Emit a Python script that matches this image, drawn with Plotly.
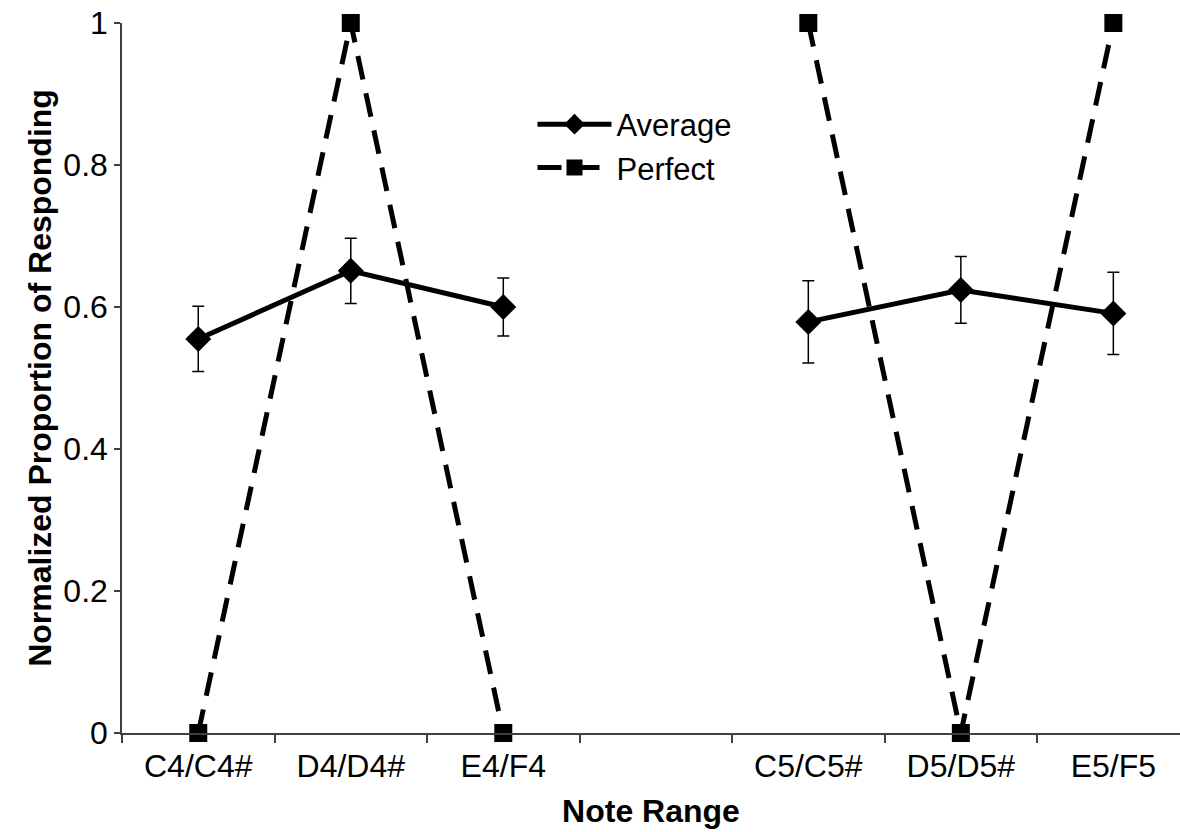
import plotly.graph_objects as go

# Note ranges (the blank slot separates the two octaves)
categories = ["C4/C4#", "D4/D4#", "E4/F4", " ", "C5/C5#", "D5/D5#", "E5/F5"]

# Mean normalized proportion of responding, with standard-error bars
average = [0.555, 0.651, 0.600, None, 0.579, 0.624, 0.591]
average_err = [0.046, 0.046, 0.041, None, 0.058, 0.047, 0.058]

# Ideal (perfect) discrimination profile
perfect = [0, 1, 0, None, 1, 0, 1]

FONT = "Liberation Sans, Arial, sans-serif"

fig = go.Figure()

fig.add_trace(go.Scatter(
    x=categories, y=average, name="Average",
    mode="lines+markers",
    line=dict(color="black", width=5),
    marker=dict(symbol="diamond", size=20, color="black"),
    error_y=dict(type="data", array=average_err, visible=True,
                 color="black", thickness=1.5, width=6),
    connectgaps=False, cliponaxis=False,
))

fig.add_trace(go.Scatter(
    x=categories, y=perfect, name="Perfect",
    mode="lines+markers",
    line=dict(color="black", width=5, dash="24px,14px"),
    marker=dict(symbol="square", size=18, color="black"),
    connectgaps=False, cliponaxis=False,
))

fig.update_layout(
    width=1180, height=832,
    margin=dict(l=122, r=0, t=23, b=99),
    paper_bgcolor="white", plot_bgcolor="white",
    font=dict(family=FONT, size=32, color="black"),
    showlegend=True,
    legend=dict(
        x=0.388, y=0.895, xanchor="left", yanchor="top",
        bgcolor="rgba(0,0,0,0)", itemwidth=74,
        font=dict(size=31),
    ),
    xaxis=dict(
        type="category", categoryorder="array", categoryarray=categories,
        range=[-0.5, 6.437],
        showline=True, linecolor="#404040", linewidth=1.5,
        ticks="outside", tickson="boundaries", ticklen=8,
        tickcolor="#404040", tickwidth=1.5,
        showgrid=False, zeroline=False,
        tickfont=dict(size=32),
        ticklabelstandoff=4,
        title=dict(text="<b>Note Range</b>", font=dict(size=32), standoff=16),
    ),
    yaxis=dict(
        range=[0, 1], tickvals=[0, 0.2, 0.4, 0.6, 0.8, 1],
        ticktext=["0", "0.2", "0.4", "0.6", "0.8", "1"],
        showline=True, linecolor="#404040", linewidth=1.5,
        ticks="outside", ticklen=6, tickcolor="#404040", tickwidth=1.5,
        showgrid=False, zeroline=False,
        tickfont=dict(size=32),
        title=dict(text="<b>Normalized Proportion of Responding</b>",
                   font=dict(size=32), standoff=2),
    ),
)

fig.write_html("out.html")
